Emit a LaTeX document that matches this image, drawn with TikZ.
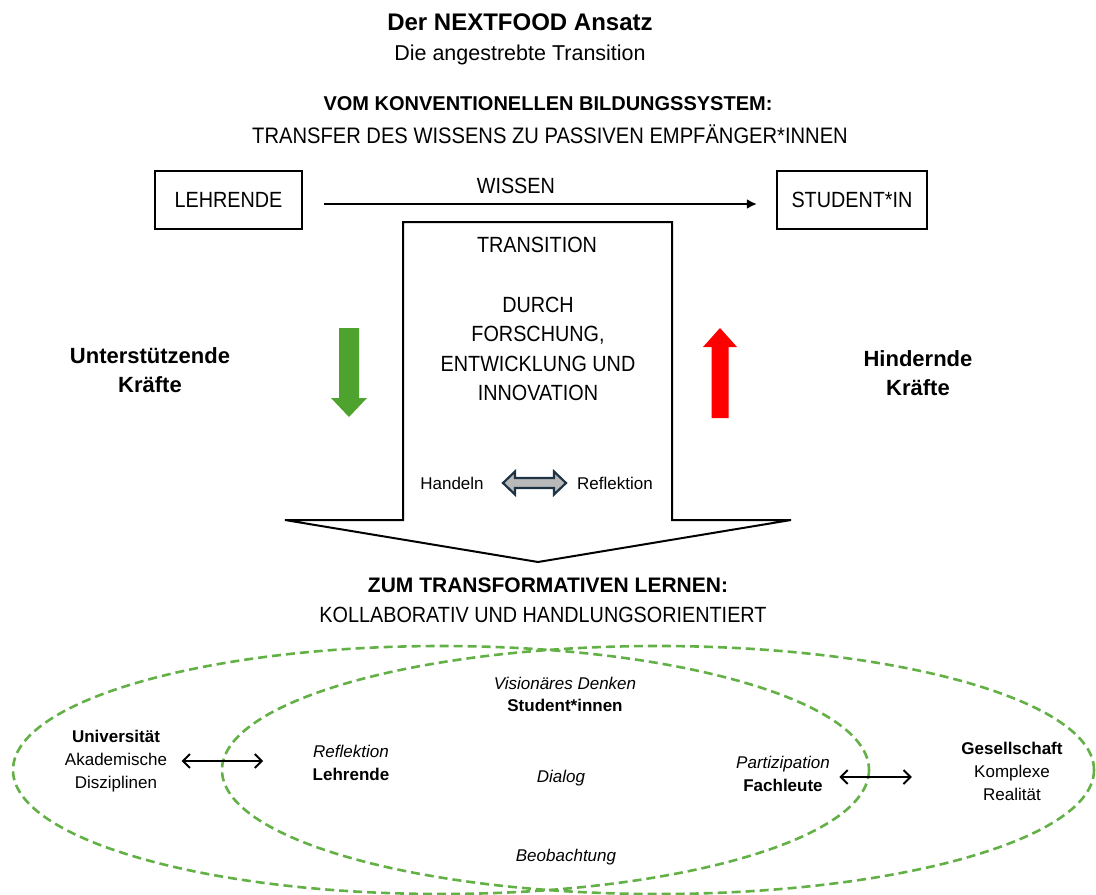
\documentclass[tikz,border=0pt]{standalone}
\usepackage{fontspec}
\setmainfont{Liberation Sans}
\newfontfamily\narrowfont{Liberation Sans}[FakeStretch=0.9]
\usetikzlibrary{arrows.meta}

\definecolor{forcegreen}{RGB}{78,163,46}
\definecolor{ringgreen}{RGB}{98,176,70}
\definecolor{arrowedge}{RGB}{30,52,68}

\tikzset{
  capsbox/.style={draw, rectangle, line width=2.2pt, minimum width=147pt, minimum height=58pt,
    text centered, font=\narrowfont\fontsize{22}{26}\selectfont},
  capstext/.style={text centered, align=center, font=\narrowfont\fontsize{22}{29.5}\selectfont},
  ringtext/.style={text centered, align=center, font=\fontsize{17}{23}\selectfont},
  ring/.style={draw=ringgreen, line width=2.6pt, dash pattern=on 9pt off 5pt},
  twoway/.style={{Straight Barb[length=7pt,width=14pt]}-{Straight Barb[length=7pt,width=14pt]}, line width=2pt}
}

\begin{document}
\begin{tikzpicture}[x=1pt, y=-1pt]

  \useasboundingbox (0,0) rectangle (1096,895);

  %Headings
  \node (title) at (520,22) [font=\fontsize{24}{29}\selectfont\bfseries]{Der NEXTFOOD Ansatz};
  \node (subtitle) at (520,55) [font=\fontsize{21.5}{26}\selectfont]{Die angestrebte Transition};
  \node (fromSystem) at (548,104) [font=\fontsize{20}{24}\selectfont\bfseries]{VOM KONVENTIONELLEN BILDUNGSSYSTEM:};
  \node (transfer) at (550,134) [capstext, font=\narrowfont\fontsize{22.4}{27}\selectfont]{TRANSFER DES WISSENS ZU PASSIVEN EMPFÄNGER*INNEN};

  %Blocks of the old system
  \node (teacher) at (228.5,200) [capsbox]{LEHRENDE};
  \node (student) at (852,200) [capsbox, minimum width=150pt]{STUDENT*IN};
  \draw[-{Latex[length=10pt,width=10pt]}, line width=2pt, shorten <=21pt, shorten >=19pt] ([yshift=-4pt]teacher.east) --
    node[pos=0.45, above=6pt, capstext]{WISSEN} ([yshift=-4pt]student.west);

  %Transition arrow
  \draw[line width=2pt, line join=miter] (403,222) -- (672,222) -- (672,520) -- (791,520) -- (538,562)
    -- (285,520) -- (403,520) -- cycle;
  \node (transition) at (537,245) [capstext]{TRANSITION};
  \node (research) at (538,349) [capstext]{DURCH\\FORSCHUNG,\\ENTWICKLUNG UND\\INNOVATION};

  %Acting and reflecting
  \node (acting) at (452,483) [font=\fontsize{17}{20}\selectfont]{Handeln};
  \node (reflecting) at (615,483) [font=\fontsize{17}{20}\selectfont]{Reflektion};
  \filldraw[fill=gray!55, draw=arrowedge, line width=2.2pt] (503,483) -- (515,471.5) -- (515,478) -- (554,478)
    -- (554,471.5) -- (566,483) -- (554,494.5) -- (554,488) -- (515,488) -- (515,494.5) -- cycle;

  %Forces
  \node (supporting) at (150,370) [text centered, align=center, font=\fontsize{22}{29}\selectfont\bfseries]{Unterstützende\\Kräfte};
  \node (hindering) at (918,373) [text centered, align=center, font=\fontsize{22}{29}\selectfont\bfseries]{Hindernde\\Kräfte};
  \fill[forcegreen] (339,328) -- (359,328) -- (359,398) -- (367,398) -- (349,417) -- (331,398) -- (339,398) -- cycle;
  \fill[red] (711.5,418) -- (728.5,418) -- (728.5,347) -- (737,347) -- (720,328) -- (703,347) -- (711.5,347) -- cycle;

  %Target
  \node (toLearning) at (548,585) [font=\fontsize{21}{25}\selectfont\bfseries]{ZUM TRANSFORMATIVEN LERNEN:};
  \node (collab) at (543,615) [capstext]{KOLLABORATIV UND HANDLUNGSORIENTIERT};

  %Rings
  \draw[ring] (441,770) ellipse [x radius=428, y radius=124];
  \draw[ring] (658,770) ellipse [x radius=436, y radius=124];

  %Actors
  \node (students) at (565,694) [ringtext, font=\fontsize{17}{22}\selectfont]{\textit{Visionäres Denken}\\\textbf{Student*innen}};
  \node (teachers) at (351,763) [ringtext]{\textit{Reflektion}\\\textbf{Lehrende}};
  \node (dialog) at (561,778) [ringtext]{\textit{Dialog}};
  \node (experts) at (783,774) [ringtext]{\textit{Partizipation}\\\textbf{Fachleute}};
  \node (observing) at (566,857) [ringtext]{\textit{Beobachtung}};
  \node (university) at (116,761) [ringtext]{\textbf{Universität}\\Akademische\\Disziplinen};
  \node (society) at (1012,771) [ringtext]{\textbf{Gesellschaft}\\Komplexe\\Realität};

  %Links
  \draw[twoway, shorten <=11pt, shorten >=46pt] (university.east) -- (university.east -| teachers.west);
  \draw[twoway, shorten <=6pt, shorten >=46pt] ([yshift=-3pt]experts.east) -- ([yshift=-3pt]experts.east -| society.west);

\end{tikzpicture}
\end{document}
